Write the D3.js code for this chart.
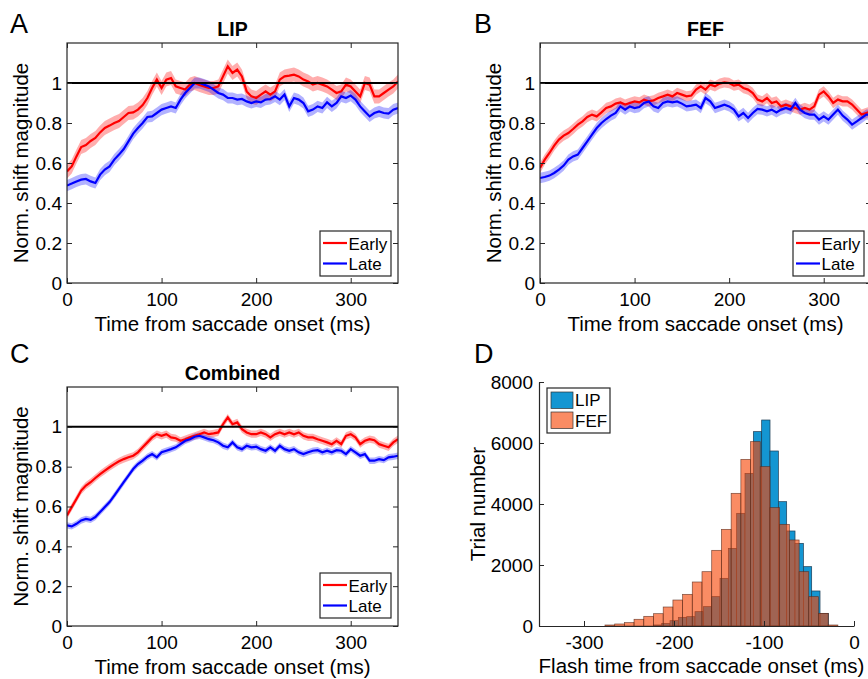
<!DOCTYPE html>
<html lang="en">
<head>
<meta charset="UTF-8">
<title>Shift magnitude</title>
<script src="https://d3js.org/d3.v7.min.js"></script>
<style>
  body { margin: 0; background: #fff; }
  text { font-family: "Liberation Sans", Arial, Helvetica, sans-serif; fill: #000; }
  .axis path, .axis line { stroke: #262626; }
</style>
</head>
<body>
<svg id="fig" width="868" height="679"></svg>
<script>
// time grid (ms from saccade onset)
const time = [0,5,10,15,20,25,30,35,40,45,50,55,60,65,70,75,80,85,90,95,100,105,110,115,120,125,130,135,140,145,150,155,160,165,170,175,180,185,190,195,200,205,210,215,220,225,230,235,240,245,250,255,260,265,270,275,280,285,290,295,300,305,310,315,320,325,330,335,340,345,350];

// A: LIP
const lipEarly = [0.558,0.583,0.633,0.68,0.69,0.71,0.725,0.753,0.775,0.787,0.80,0.81,0.83,0.85,0.853,0.867,0.89,0.925,0.975,1.017,0.975,1.017,1.025,0.983,0.975,0.967,0.992,1.0,0.99,0.983,0.975,0.975,0.983,1.033,1.083,1.05,1.067,1.033,0.958,0.933,0.925,0.942,0.958,0.942,0.958,1.017,1.033,1.037,1.042,1.033,1.017,1.008,0.992,1.0,0.992,0.983,0.967,0.95,0.958,0.992,0.983,0.958,0.933,1.0,0.992,0.933,0.933,0.95,0.967,0.983,1.008];
const lipLate = [0.487,0.497,0.508,0.517,0.52,0.508,0.50,0.542,0.567,0.583,0.617,0.642,0.67,0.708,0.747,0.775,0.80,0.83,0.833,0.85,0.867,0.875,0.883,0.875,0.917,0.95,0.975,1.0,1.0,0.992,0.983,0.967,0.95,0.942,0.925,0.925,0.917,0.92,0.908,0.90,0.908,0.903,0.917,0.92,0.933,0.917,0.942,0.883,0.925,0.917,0.90,0.858,0.867,0.883,0.875,0.903,0.883,0.90,0.933,0.925,0.937,0.917,0.883,0.858,0.833,0.85,0.858,0.85,0.847,0.867,0.875];

// B: FEF
const fefEarly = [0.575,0.617,0.65,0.687,0.717,0.737,0.75,0.77,0.792,0.808,0.83,0.842,0.833,0.853,0.875,0.883,0.897,0.903,0.892,0.90,0.908,0.903,0.917,0.908,0.913,0.925,0.933,0.942,0.933,0.95,0.942,0.933,0.937,0.967,0.983,0.967,0.992,0.983,0.997,1.003,1.0,0.987,0.992,0.975,0.967,0.95,0.917,0.908,0.925,0.90,0.908,0.883,0.892,0.883,0.875,0.867,0.875,0.867,0.883,0.942,0.958,0.933,0.90,0.917,0.908,0.908,0.892,0.867,0.842,0.85,0.858];
const fefLate = [0.525,0.53,0.537,0.55,0.567,0.587,0.617,0.633,0.642,0.675,0.708,0.742,0.775,0.80,0.82,0.837,0.85,0.883,0.867,0.883,0.875,0.88,0.90,0.908,0.883,0.875,0.90,0.908,0.903,0.908,0.897,0.883,0.887,0.892,0.875,0.925,0.908,0.875,0.883,0.892,0.883,0.867,0.833,0.85,0.825,0.85,0.87,0.867,0.858,0.867,0.853,0.867,0.875,0.867,0.90,0.867,0.85,0.842,0.842,0.817,0.833,0.817,0.842,0.867,0.837,0.817,0.792,0.808,0.825,0.842,0.842];

// C: Combined
const combEarly = [0.555,0.597,0.638,0.68,0.705,0.722,0.743,0.763,0.78,0.797,0.813,0.827,0.838,0.847,0.855,0.872,0.897,0.922,0.947,0.963,0.955,0.963,0.947,0.943,0.93,0.938,0.947,0.955,0.963,0.972,0.963,0.967,0.972,1.013,1.047,1.013,1.022,0.988,0.972,0.963,0.963,0.972,0.963,0.947,0.963,0.972,0.963,0.972,0.963,0.972,0.955,0.947,0.947,0.938,0.93,0.922,0.913,0.93,0.913,0.955,0.963,0.947,0.913,0.93,0.938,0.933,0.913,0.905,0.897,0.922,0.938];
const combLate = [0.505,0.50,0.513,0.53,0.538,0.533,0.547,0.572,0.597,0.622,0.655,0.688,0.722,0.755,0.788,0.813,0.83,0.85,0.863,0.847,0.872,0.88,0.888,0.897,0.913,0.93,0.938,0.95,0.955,0.947,0.938,0.933,0.922,0.905,0.897,0.922,0.897,0.888,0.905,0.897,0.90,0.888,0.88,0.897,0.88,0.905,0.888,0.88,0.888,0.872,0.863,0.872,0.88,0.883,0.872,0.88,0.872,0.883,0.88,0.863,0.888,0.872,0.855,0.863,0.83,0.83,0.838,0.833,0.847,0.85,0.855];

// s.e.m. half widths of the shaded bands
const lipEarlySem = 0.035, lipLateSem = 0.028;
const fefEarlySem = 0.026, fefLateSem = 0.026;
const combEarlySem = 0.018, combLateSem = 0.016;

const seriesNames = ["Early", "Late"];
const xTicks = [0, 100, 200, 300];
const yTicks = [0, 0.2, 0.4, 0.6, 0.8, 1];

// D: flash time histograms (ms)
const fefEdges = [-276.7,-265.9,-255.1,-244.4,-233.6,-222.8,-212.0,-201.2,-190.4,-179.7,-168.9,-158.1,-147.3,-136.5,-125.7,-115.0,-104.2,-93.4,-82.6,-71.8,-61.0,-50.3,-39.5,-28.7,-17.9];
const fefCounts = [33,66,110,220,317,404,623,852,1038,1443,1781,2481,3169,4350,5464,6044,5224,3880,3333,2820,1781,962,415,33];
const lipEdges = [-222.96,-213.7,-204.44,-195.18,-185.92,-176.66,-167.4,-158.14,-148.88,-139.62,-130.36,-121.1,-111.84,-102.58,-93.32,-84.06,-74.8,-65.54,-56.28,-47.02,-37.76,-28.5];
const lipCounts = [33,87,175,284,306,470,634,962,1563,2546,3694,5005,6372,6754,5738,4076,3115,2710,1945,1148,415];
const histNames = ["LIP", "FEF"];
const histXTicks = [-300, -200, -100, 0];
const histYTicks = [0, 2000, 4000, 6000, 8000];

const svg = d3.select("#fig");
const RED = "#ff0000", BLUE = "#0000ff";

function panelLetter(x, y, s) {
  svg.append("text").attr("x", x).attr("y", y).attr("font-size", 27).text(s);
}

// d3 axis puts font-size 10 on its group, so restyle the labels afterwards
function tickText(sel) {
  sel.selectAll("text").attr("font-size", 19).attr("fill", "#000")
    .text(function () { return d3.select(this).text().replace("\u2212", "-"); });
}

function linePanel(id, box, title, early, late, earlySem, lateSem, legend) {
  const g = svg.append("g");
  const x = d3.scaleLinear().domain([0, 350]).range([box.left, box.right]);
  const y = d3.scaleLinear().domain([0, 1.2]).range([box.bottom, box.top]);

  g.append("clipPath").attr("id", "clip" + id)
    .append("rect").attr("x", box.left).attr("y", box.top)
    .attr("width", box.right - box.left).attr("height", box.bottom - box.top);

  const plot = g.append("g").attr("clip-path", `url(#clip${id})`);
  const rows = time.map((t, i) => ({ t, e: early[i], l: late[i] }));

  const band = (key, sem) => d3.area()
    .x(d => x(d.t)).y0(d => y(d[key] - sem)).y1(d => y(d[key] + sem));
  const line = key => d3.line().x(d => x(d.t)).y(d => y(d[key]));

  plot.append("path").datum(rows).attr("d", band("e", earlySem)).attr("fill", RED).attr("fill-opacity", 0.32);
  plot.append("path").datum(rows).attr("d", band("l", lateSem)).attr("fill", BLUE).attr("fill-opacity", 0.3);
  plot.append("path").datum(rows).attr("d", line("e")).attr("fill", "none").attr("stroke", RED).attr("stroke-width", 2.2);
  plot.append("path").datum(rows).attr("d", line("l")).attr("fill", "none").attr("stroke", BLUE).attr("stroke-width", 2.2);

  // reference line at 1
  plot.append("line").attr("x1", box.left).attr("x2", box.right)
    .attr("y1", y(1)).attr("y2", y(1)).attr("stroke", "#000").attr("stroke-width", 2);

  // axes, ticks inside the box (matlab style)
  const ax = g.append("g").attr("class", "axis");
  ax.append("g").attr("transform", `translate(0,${box.bottom})`)
    .call(d3.axisBottom(x).tickValues(xTicks).tickFormat(d3.format("d")).tickSizeInner(-5).tickSizeOuter(0).tickPadding(10));
  ax.append("g").attr("transform", `translate(0,${box.top})`)
    .call(d3.axisTop(x).tickValues(xTicks).tickFormat("").tickSizeInner(-5).tickSizeOuter(0));
  ax.append("g").attr("transform", `translate(${box.left},0)`)
    .call(d3.axisLeft(y).tickValues(yTicks).tickFormat(d => d === 0 || d === 1 ? d : d.toFixed(1)).tickSizeInner(-5).tickSizeOuter(0).tickPadding(5));
  ax.append("g").attr("transform", `translate(${box.right},0)`)
    .call(d3.axisRight(y).tickValues(yTicks).tickFormat("").tickSizeInner(-5).tickSizeOuter(0));
  ax.selectAll(".domain").remove();
  tickText(ax);

  g.append("rect").attr("x", box.left).attr("y", box.top)
    .attr("width", box.right - box.left).attr("height", box.bottom - box.top)
    .attr("fill", "none").attr("stroke", "#262626").attr("stroke-width", 1.2);

  g.append("text").attr("x", (box.left + box.right) / 2).attr("y", box.top - 7)
    .attr("text-anchor", "middle").attr("font-weight", "bold").attr("font-size", 19.5).text(title);

  g.append("text").attr("x", x(175)).attr("y", box.bottom + 48)
    .attr("text-anchor", "middle").attr("font-size", 20.5).text("Time from saccade onset (ms)");
  g.append("text").attr("transform", `translate(${box.left - 39},${(box.top + box.bottom) / 2}) rotate(-90)`)
    .attr("text-anchor", "middle").attr("font-size", 20.5).text("Norm. shift magnitude");

  // legend
  const lg = g.append("g").attr("transform", `translate(${legend.x},${legend.y})`);
  lg.append("rect").attr("width", 71).attr("height", 45).attr("fill", "#fff")
    .attr("stroke", "#262626").attr("stroke-width", 1.2);
  [RED, BLUE].forEach((c, i) => {
    lg.append("line").attr("x1", 3).attr("x2", 27).attr("y1", 12 + i * 20.5).attr("y2", 12 + i * 20.5)
      .attr("stroke", c).attr("stroke-width", 2.2);
    lg.append("text").attr("x", 28.5).attr("y", 18.5 + i * 20.5).attr("font-size", 17).text(seriesNames[i]);
  });
}

function histPanel(box) {
  const g = svg.append("g");
  const x = d3.scaleLinear().domain([-350, 0]).range([box.left, box.right]);
  const y = d3.scaleLinear().domain([0, 8000]).range([box.bottom, box.top]);

  const bins = (edges, counts) => counts.map((c, i) => ({ x0: edges[i], x1: edges[i + 1], c }));

  g.append("g").selectAll("rect").data(bins(lipEdges, lipCounts)).join("rect")
    .attr("x", d => x(d.x0)).attr("width", d => x(d.x1) - x(d.x0))
    .attr("y", d => y(d.c)).attr("height", d => y(0) - y(d.c))
    .attr("fill", "rgb(20,150,210)").attr("stroke", "#1d3d55").attr("stroke-width", 0.7);

  g.append("g").selectAll("rect").data(bins(fefEdges, fefCounts)).join("rect")
    .attr("x", d => x(d.x0)).attr("width", d => x(d.x1) - x(d.x0))
    .attr("y", d => y(d.c)).attr("height", d => y(0) - y(d.c))
    .attr("fill", "rgb(247,70,5)").attr("fill-opacity", 0.62)
    .attr("stroke", "#5a2a1a").attr("stroke-opacity", 0.8).attr("stroke-width", 0.7);

  const ax = g.append("g").attr("class", "axis");
  ax.append("g").attr("transform", `translate(0,${box.bottom})`)
    .call(d3.axisBottom(x).tickValues(histXTicks).tickFormat(d3.format("d")).tickSizeInner(-5).tickSizeOuter(0).tickPadding(10));
  ax.append("g").attr("transform", `translate(${box.left},0)`)
    .call(d3.axisLeft(y).tickValues(histYTicks).tickFormat(d3.format("d")).tickSizeInner(-5).tickSizeOuter(0).tickPadding(6));
  ax.selectAll(".domain").attr("stroke-width", 1.2);
  tickText(ax);

  g.append("text").attr("x", (box.left + box.right) / 2 + 5).attr("y", box.bottom + 47)
    .attr("text-anchor", "middle").attr("font-size", 20.5).text("Flash time from saccade onset (ms)");
  g.append("text").attr("transform", `translate(${box.left - 54},${(box.top + box.bottom) / 2}) rotate(-90)`)
    .attr("text-anchor", "middle").attr("font-size", 20.5).text("Trial number");

  const lg = g.append("g").attr("transform", "translate(547,388)");
  lg.append("rect").attr("width", 63).attr("height", 45).attr("fill", "#fff")
    .attr("stroke", "#262626").attr("stroke-width", 1.2);
  [["rgb(20,150,210)", 1], ["rgb(247,70,5)", 0.62]].forEach(([c, op], i) => {
    lg.append("rect").attr("x", 4).attr("y", 4 + i * 20).attr("width", 22).attr("height", 16.5)
      .attr("fill", c).attr("fill-opacity", op).attr("stroke", "#333").attr("stroke-width", 0.7);
    lg.append("text").attr("x", 28).attr("y", 18 + i * 20.5).attr("font-size", 17).text(histNames[i]);
  });
}

linePanel("A", { left: 67, top: 43, right: 398, bottom: 283 }, "LIP", lipEarly, lipLate, lipEarlySem, lipLateSem, { x: 320, y: 231 });
linePanel("B", { left: 540, top: 43, right: 871, bottom: 283 }, "FEF", fefEarly, fefLate, fefEarlySem, fefLateSem, { x: 793, y: 231 });
linePanel("C", { left: 67, top: 387, right: 398, bottom: 626 }, "Combined", combEarly, combLate, combEarlySem, combLateSem, { x: 320, y: 573 });
histPanel({ left: 539, top: 382, right: 854, bottom: 626 });

panelLetter(10, 33, "A");
panelLetter(474, 33, "B");
panelLetter(10, 363, "C");
panelLetter(474, 363, "D");
</script>
</body>
</html>
